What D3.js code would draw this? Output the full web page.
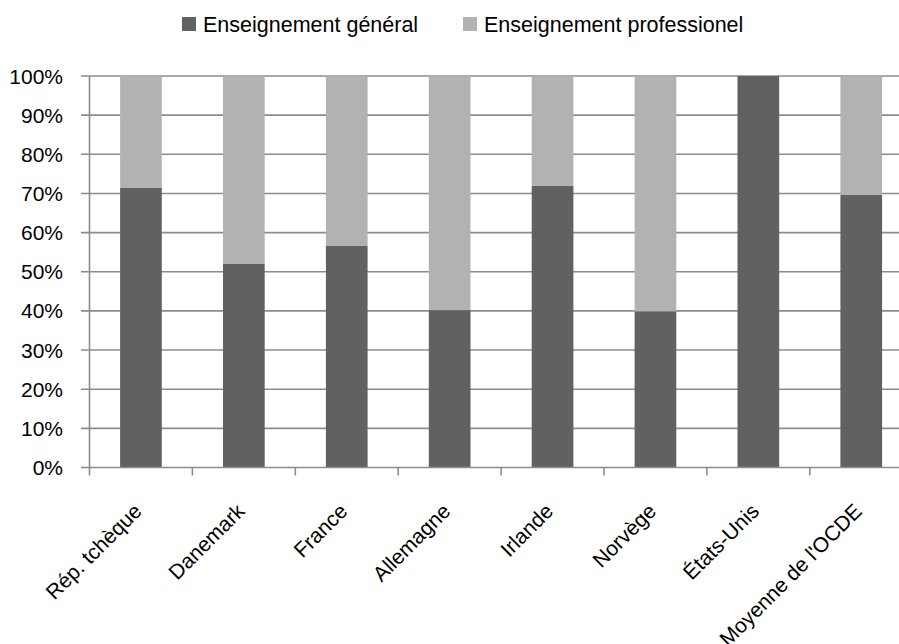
<!DOCTYPE html>
<html>
<head>
<meta charset="utf-8">
<script src="https://cdn.jsdelivr.net/npm/d3@7"></script>
<style>
  html, body { margin: 0; padding: 0; background: #fff; }
  svg { display: block; font-family: "Liberation Sans", Arial, sans-serif; }
</style>
</head>
<body>
<svg id="chart" width="899" height="644"></svg>
<script>
// Share of upper-secondary students by programme orientation
const countries = ["Rép. tchèque", "Danemark", "France", "Allemagne", "Irlande", "Norvège", "États-Unis", "Moyenne de l'OCDE"];
const general = [71.5, 52.1, 56.7, 40.2, 72.0, 39.9, 100.0, 69.6];
const professional = [28.5, 47.9, 43.3, 59.8, 28.0, 60.1, 0.0, 30.4];
const seriesNames = ["Enseignement général", "Enseignement professionel"];
const seriesColors = ["#616161", "#b2b2b2"];
const yTicks = [0, 10, 20, 30, 40, 50, 60, 70, 80, 90, 100];

const svg = d3.select("#chart");
const margin = { left: 89.5, top: 76, bottom: 467.5 };
const plotRight = 89.5 + 8 * 102.9;

const x = d3.scaleBand().domain(countries).range([margin.left, plotRight]).paddingInner(0.595).paddingOuter(0.2975);
const xTicks = d3.scaleBand().domain(countries).range([margin.left, plotRight]);
const y = d3.scaleLinear().domain([0, 100]).range([margin.bottom, margin.top]);

const grid = "#8c8c8c";

// horizontal gridlines
svg.append("g")
  .selectAll("line")
  .data(yTicks.filter(d => d > 0))
  .join("line")
  .attr("x1", 81).attr("x2", plotRight)
  .attr("y1", d => y(d)).attr("y2", d => y(d))
  .attr("stroke", grid).attr("stroke-width", 1.6);

// stacked bars
const rows = countries.map((c, i) => ({ country: c, general: general[i], professional: professional[i] }));
const stack = d3.stack().keys(["general", "professional"]);
const layers = stack(rows);

svg.append("g")
  .selectAll("g")
  .data(layers)
  .join("g")
  .attr("fill", (d, i) => seriesColors[i])
  .selectAll("rect")
  .data(d => d)
  .join("rect")
  .attr("x", d => x(d.data.country))
  .attr("width", x.bandwidth())
  .attr("y", d => y(d[1]))
  .attr("height", d => y(d[0]) - y(d[1]));

// left axis line and labels
svg.append("line")
  .attr("x1", margin.left).attr("x2", margin.left)
  .attr("y1", margin.top).attr("y2", margin.bottom)
  .attr("stroke", grid).attr("stroke-width", 1.6);

svg.append("g")
  .selectAll("text")
  .data(yTicks)
  .join("text")
  .attr("x", 63)
  .attr("y", d => y(d) + 7.5)
  .attr("text-anchor", "end")
  .attr("font-size", 21)
  .attr("fill", "#000")
  .text(d => d + "%");

// bottom axis
const xAxis = svg.append("g");
xAxis.append("line")
  .attr("x1", 81).attr("x2", plotRight)
  .attr("y1", margin.bottom).attr("y2", margin.bottom)
  .attr("stroke", grid).attr("stroke-width", 1.6);
xAxis.selectAll("line.tick")
  .data(countries)
  .join("line")
  .attr("class", "tick")
  .attr("x1", d => xTicks(d)).attr("x2", d => xTicks(d))
  .attr("y1", margin.bottom).attr("y2", margin.bottom + 8)
  .attr("stroke", grid).attr("stroke-width", 1.6);

xAxis.selectAll("text")
  .data(countries)
  .join("text")
  .attr("transform", d => `translate(${x(d) + x.bandwidth() / 2 + 2},${margin.bottom + 45}) rotate(-45)`)
  .attr("text-anchor", "end")
  .attr("font-size", 21)
  .attr("fill", "#000")
  .text(d => d);

// legend
const legendX = [182, 463];
const legend = svg.append("g");
seriesNames.forEach((name, i) => {
  legend.append("rect")
    .attr("x", legendX[i]).attr("y", 17)
    .attr("width", 14).attr("height", 14)
    .attr("fill", seriesColors[i]);
  legend.append("text")
    .attr("x", legendX[i] + 21).attr("y", 32)
    .attr("font-size", 21.5)
    .attr("fill", "#000")
    .text(name);
});
</script>
</body>
</html>
